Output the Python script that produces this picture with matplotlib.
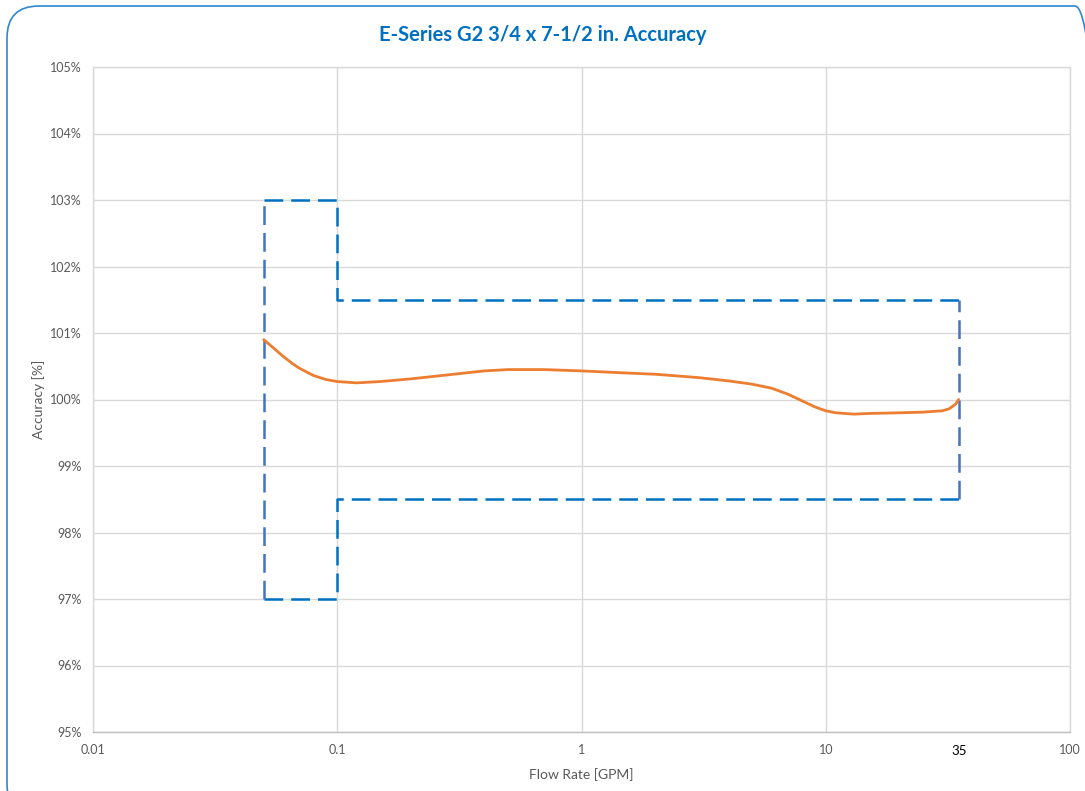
import numpy as np
import matplotlib
matplotlib.use("Agg")
import matplotlib.pyplot as plt
from matplotlib.patches import FancyBboxPatch
from matplotlib.ticker import FuncFormatter, FixedLocator, NullLocator
import matplotlib.transforms as mtransforms

plt.rcParams['font.family'] = ['Lato', 'DejaVu Sans']

flow = [0.05, 0.055, 0.06, 0.065, 0.07, 0.08, 0.09, 0.1, 0.12, 0.15, 0.2, 0.3, 0.4, 0.5, 0.7,
        1, 1.5, 2, 3, 4, 5, 6, 7, 8, 9, 10, 11, 13, 15, 20, 25, 30, 32, 34, 35]
accuracy = [100.9, 100.77, 100.65, 100.55, 100.47, 100.36, 100.3, 100.27, 100.25, 100.27,
            100.31, 100.38, 100.43, 100.45, 100.45, 100.43, 100.4, 100.38, 100.33, 100.28,
            100.23, 100.17, 100.08, 99.98, 99.89, 99.83, 99.8, 99.78, 99.79, 99.8, 99.81,
            99.83, 99.86, 99.93, 100.0]

# tolerance envelope
upper_x = [0.05, 0.1, 0.1, 35]
upper_y = [103, 103, 101.5, 101.5]
lower_x = [0.05, 0.1, 0.1, 35]
lower_y = [97, 97, 98.5, 98.5]
left_edge_x = [0.05, 0.05]
left_edge_y = [97, 103]
right_edge_x = [35, 35]
right_edge_y = [98.5, 101.5]

x_ticks = [0.01, 0.1, 1, 10, 100]
x_tick_labels = ['0.01', '0.1', '1', '10', '100']
y_ticks = list(range(95, 106))
extra_label_x = 35

title = 'E-Series G2 3/4 x 7-1/2 in. Accuracy'

W, H = 1085, 791
fig = plt.figure(figsize=(W / 100, H / 100), dpi=100)
ax = fig.add_axes([93 / W, 1 - 732 / H, (1070 - 93) / W, (732 - 67) / H])

grey = '#595959'
grid_c = '#D9D9D9'

ax.set_xscale('log')
ax.set_xlim(0.01, 100)
ax.set_ylim(95, 105)

ax.xaxis.set_major_locator(FixedLocator(x_ticks))
ax.xaxis.set_minor_locator(NullLocator())
ax.set_xticks(x_ticks)
ax.set_xticklabels(x_tick_labels)
ax.set_yticks(y_ticks)
ax.yaxis.set_major_formatter(FuncFormatter(lambda v, p: '{:.0f}%'.format(v)))
ax.tick_params(axis='both', length=0, labelsize=9, colors=grey)
ax.tick_params(axis='x', pad=9)
ax.tick_params(axis='y', pad=8)

ax.grid(True, color=grid_c, linewidth=1.0)
ax.set_axisbelow(True)
for s in ax.spines.values():
    s.set_color(grid_c)
    s.set_linewidth(1.0)
ax.spines['bottom'].set_color('#BFBFBF')

dash = (7.5, 3.2)
ax.plot(upper_x, upper_y, color='#0070C0', linewidth=1.8, dashes=dash, zorder=3)
ax.plot(lower_x, lower_y, color='#0070C0', linewidth=1.8, dashes=dash, zorder=3)
ax.plot(left_edge_x, left_edge_y, color='#4472C4', linewidth=1.8, dashes=dash, zorder=3)
ax.plot(right_edge_x, right_edge_y, color='#4472C4', linewidth=1.8, dashes=dash, zorder=3)
ax.plot(flow, accuracy, color='#ED7D31', linewidth=2.0, zorder=4,
        solid_capstyle='round', solid_joinstyle='round')

# extra "35" label under the axis
trans = mtransforms.blended_transform_factory(ax.transData, ax.transAxes)
ax.text(extra_label_x, -0.0195, str(extra_label_x), transform=trans, ha='center', va='top',
        fontsize=9.5, color='black')

ax.set_xlabel('Flow Rate [GPM]', fontsize=10, color=grey, labelpad=8)
ax.set_ylabel('Accuracy [%]', fontsize=10, color=grey, labelpad=4)

fig.text(0.5, 1 - 35 / H, title, ha='center', va='center', fontsize=14.5,
         fontweight='bold', color='#0070C0')

# rounded chart border, right and bottom edges run off the canvas
border = FancyBboxPatch((7, -25), 1100, 810, boxstyle='round,pad=0,rounding_size=32',
                        transform=None, facecolor='none', edgecolor='#2E86D0',
                        linewidth=1.2)
fig.patches.append(border)

fig.savefig('out.png', dpi=100)
